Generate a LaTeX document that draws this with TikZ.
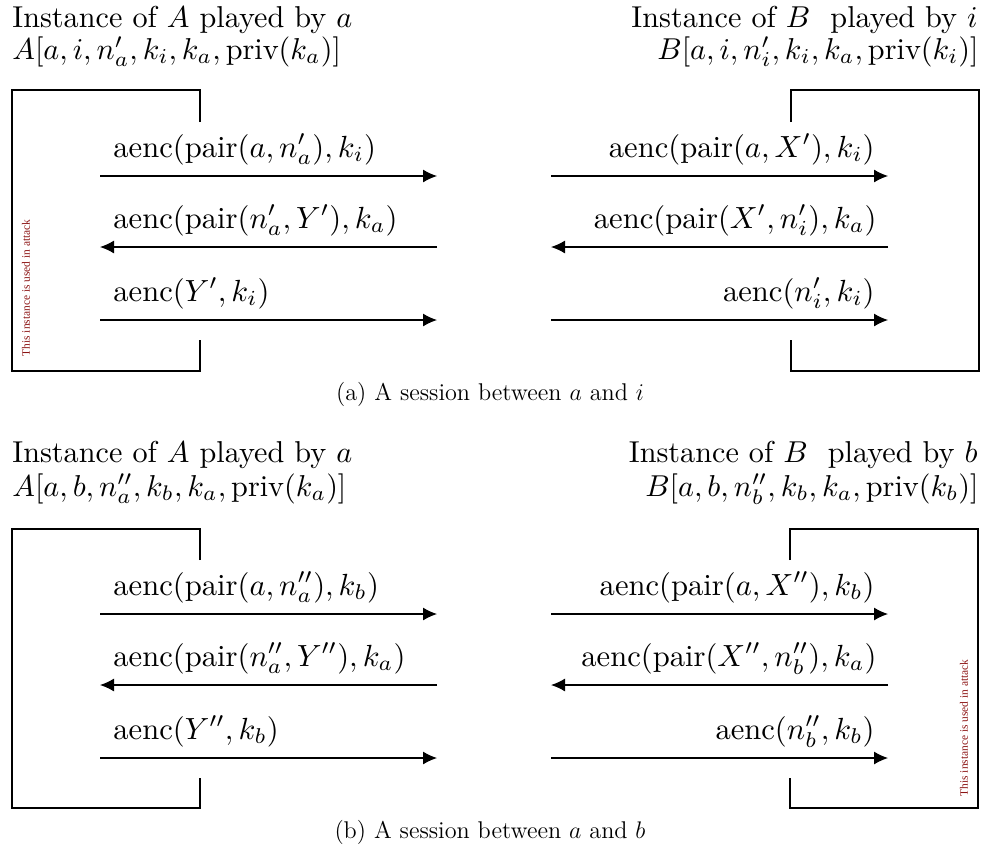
\documentclass[tikz,border=0pt]{standalone}
\usepackage{fontspec}
\newfontfamily\redfont{Liberation Serif}
\usetikzlibrary{arrows.meta}
\definecolor{attackred}{RGB}{140,20,20}
\newcommand\hdrsz[1]{\scalebox{1.51}{#1}}
\newcommand\lblsz[1]{\scalebox{1.53}{#1}}
\begin{document}
\begin{tikzpicture}[x=0.5pt,y=-0.5pt,
  hdr/.style={inner sep=0pt,font=\fontsize{10}{12}\selectfont},
  lbl/.style={inner sep=0pt,font=\fontsize{10}{12}\selectfont},
  captext/.style={inner sep=0pt,font=\fontsize{12.1}{14}\selectfont},
  frame/.style={line width=0.6pt},
  msg/.style={line width=0.6pt,-{Latex[length=7pt,width=6.5pt]}},
  attack/.style={inner sep=0pt,rotate=90,text=attackred,font=\redfont\fontsize{5.7}{6}\selectfont}]
\useasboundingbox (0,0) rectangle (983,852);

% ---------- (a) ----------
\node[hdr,anchor=base west] (ha1) at (12,27) {\hdrsz{Instance of $A$ played by $a$}};
\node[hdr,anchor=base west] (ha2) at (12,59) {\hdrsz{$A[a,i,n'_a,k_i,k_a,\mathrm{priv}(k_a)]$}};
\node[hdr,anchor=base east] (hb1) at (978,27) {\hdrsz{Instance of $B$~ played by $i$}};
\node[hdr,anchor=base east] (hb2) at (979,59) {\hdrsz{$B[a,i,n'_i,k_i,k_a,\mathrm{priv}(k_i)]$}};

\draw[frame] (200,122) -- (200,90) -- (12,90) -- (12,371) -- (200,371) -- (200,340);
\draw[frame] (791,122) -- (791,90) -- (979,90) -- (979,371) -- (791,371) -- (791,340);

\node[attack] (atk1) at (26,288) {This instance is used in attack};

\coordinate (aL1) at (100,176); \coordinate (aR1) at (437,176);
\coordinate (aL2) at (100,247); \coordinate (aR2) at (437,247);
\coordinate (aL3) at (100,320); \coordinate (aR3) at (437,320);
\coordinate (bL1) at (551,176); \coordinate (bR1) at (888,176);
\coordinate (bL2) at (551,247); \coordinate (bR2) at (888,247);
\coordinate (bL3) at (551,320); \coordinate (bR3) at (888,320);
\draw[msg] (aL1) -- (aR1);
\draw[msg] (aR2) -- (aL2);
\draw[msg] (aL3) -- (aR3);
\draw[msg] (bL1) -- (bR1);
\draw[msg] (bR2) -- (bL2);
\draw[msg] (bL3) -- (bR3);
\node[lbl,anchor=base west] (la1) at (113,157) {\lblsz{$\mathrm{aenc}(\mathrm{pair}(a,n'_a),k_i)$}};
\node[lbl,anchor=base west] (la2) at (113,228) {\lblsz{$\mathrm{aenc}(\mathrm{pair}(n'_a,Y'),k_a)$}};
\node[lbl,anchor=base west] (la3) at (113,301) {\lblsz{$\mathrm{aenc}(Y',k_i)$}};
\node[lbl,anchor=base east] (lb1) at (875,157) {\lblsz{$\mathrm{aenc}(\mathrm{pair}(a,X'),k_i)$}};
\node[lbl,anchor=base east] (lb2) at (877,228) {\lblsz{$\mathrm{aenc}(\mathrm{pair}(X',n'_i),k_a)$}};
\node[lbl,anchor=base east] (lb3) at (875,301) {\lblsz{$\mathrm{aenc}(n'_i,k_i)$}};

\node[captext,anchor=base] (capa) at (490,400) {(a) A session between $a$ and $i$};

% ---------- (b) ----------
\node[hdr,anchor=base west] (hc1) at (12,462) {\hdrsz{Instance of $A$ played by $a$}};
\node[hdr,anchor=base west] (hc2) at (12,496) {\hdrsz{$A[a,b,n''_a,k_b,k_a,\mathrm{priv}(k_a)]$}};
\node[hdr,anchor=base east] (hd1) at (978,462) {\hdrsz{Instance of $B$~ played by $b$}};
\node[hdr,anchor=base east] (hd2) at (979,496) {\hdrsz{$B[a,b,n''_b,k_b,k_a,\mathrm{priv}(k_b)]$}};

\draw[frame] (200,560) -- (200,529) -- (12,529) -- (12,808) -- (200,808) -- (200,778);
\draw[frame] (790,560) -- (790,529) -- (978,529) -- (978,808) -- (790,808) -- (790,778);

\node[attack] (atk2) at (964,728) {This instance is used in attack};

\coordinate (cL1) at (100,614); \coordinate (cR1) at (437,614);
\coordinate (cL2) at (100,685); \coordinate (cR2) at (437,685);
\coordinate (cL3) at (100,758); \coordinate (cR3) at (437,758);
\coordinate (dL1) at (551,614); \coordinate (dR1) at (888,614);
\coordinate (dL2) at (551,685); \coordinate (dR2) at (888,685);
\coordinate (dL3) at (551,758); \coordinate (dR3) at (888,758);
\draw[msg] (cL1) -- (cR1);
\draw[msg] (cR2) -- (cL2);
\draw[msg] (cL3) -- (cR3);
\draw[msg] (dL1) -- (dR1);
\draw[msg] (dR2) -- (dL2);
\draw[msg] (dL3) -- (dR3);
\node[lbl,anchor=base west] (lc1) at (113,595) {\lblsz{$\mathrm{aenc}(\mathrm{pair}(a,n''_a),k_b)$}};
\node[lbl,anchor=base west] (lc2) at (113,666) {\lblsz{$\mathrm{aenc}(\mathrm{pair}(n''_a,Y''),k_a)$}};
\node[lbl,anchor=base west] (lc3) at (113,739) {\lblsz{$\mathrm{aenc}(Y'',k_b)$}};
\node[lbl,anchor=base east] (ld1) at (875,595) {\lblsz{$\mathrm{aenc}(\mathrm{pair}(a,X''),k_b)$}};
\node[lbl,anchor=base east] (ld2) at (877,666) {\lblsz{$\mathrm{aenc}(\mathrm{pair}(X'',n''_b),k_a)$}};
\node[lbl,anchor=base east] (ld3) at (875,739) {\lblsz{$\mathrm{aenc}(n''_b,k_b)$}};

\node[captext,anchor=base] (capb) at (490,838) {(b) A session between $a$ and $b$};
\end{tikzpicture}
\end{document}
